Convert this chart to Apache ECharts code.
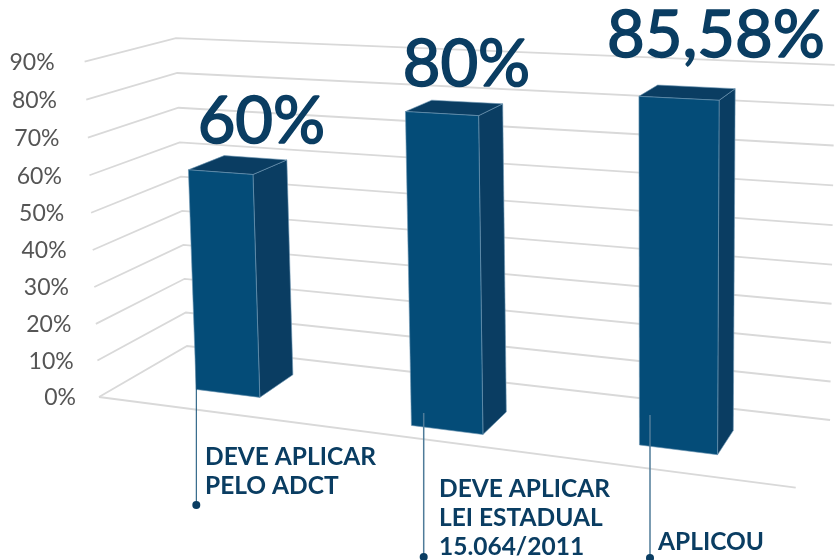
<!DOCTYPE html>
<html lang="pt-br" style="height: 100%">
<head>
  <meta charset="utf-8">
</head>
<body style="height: 100%; margin: 0; background: #fff">
  <div id="container" style="height: 100%"></div>

  <script type="text/javascript" src="https://cdn.jsdelivr.net/npm/echarts@6/dist/echarts.min.js"></script>
  <script type="text/javascript">
    const categories = ['DEVE APLICAR\nPELO ADCT', 'DEVE APLICAR\nLEI ESTADUAL\n15.064/2011', 'APLICOU'];
    const values = [60, 80, 85.58];
    const tickValues = [0, 10, 20, 30, 40, 50, 60, 70, 80, 90];
    const tickLabels = ['0%', '10%', '20%', '30%', '40%', '50%', '60%', '70%', '80%', '90%'];

    const FONT = 'Lato, "Open Sans", sans-serif';
    const NAVY = '#0a3d62';

    // bars were moved by hand in the original slide, so each has its own depth
    const barLayout = [
      { shift: 0.002, front: 0.30, back: 0.72, label: [73, -48], leader: [196.3, 360, 505], text: [205, 443], line: 1, lineColor: '#0a4a72' },
      { shift: 0.022, front: 0.17, back: 0.54, label: [61, -47], leader: [423.7, 413, 557], text: [439, 475], line: 1.5, lineColor: '#4f7b99' },
      { shift: 0.000, front: 0.30, back: 0.67, label: [77, -60], leader: [650, 415, 558], text: [658, 528], line: 1.5, lineColor: '#4f7b99' }
    ];
    const BAR_HALF = 0.052;

    // perspective camera: u along the categories, v up the value axis, d into the wall
    function project(u, v, d) {
      const w = -0.1468 * u - 0.025 * v + 0.0913 * d + 1;
      return [
        (579.9 * u - 16.5 * v + 105.1 * d + 99) / w,
        (19.1 * u - 337 * v - 19.4 * d + 397) / w
      ];
    }

    // the hidden grid fills the page, so axis pixels give unit positions
    const chartDom = document.getElementById('container');
    const myChart = echarts.init(chartDom);
    const unitU = (api, i) => api.coord([i, 0])[0] / myChart.getWidth();
    const unitV = (api, val) => 1 - api.coord([0, val])[1] / myChart.getHeight();

    function face(points, fill) {
      return {
        type: 'polygon',
        shape: { points: points },
        style: { fill: fill, stroke: '#6f97b3', lineWidth: 0.6 }
      };
    }

    function renderGrid(params, api) {
      const val = api.value(0);
      const v = unitV(api, val);
      const gridStyle = { fill: null, stroke: '#d9d9d9', lineWidth: 1.8 };
      const children = [{
        type: 'polyline',
        shape: { points: [project(0, v, 0), project(0, v, 1), project(1, v, 1)] },
        style: gridStyle
      }];
      if (val === 0) {
        children.push({
          type: 'line',
          shape: { x1: project(0, 0, 0)[0], y1: project(0, 0, 0)[1], x2: project(1, 0, 0)[0], y2: project(1, 0, 0)[1] },
          style: gridStyle
        });
      }
      const start = project(0, v, 0);
      children.push({
        type: 'text',
        style: {
          text: tickLabels[params.dataIndex],
          x: start[0] - 23 - 7 * v,
          y: start[1] + 1,
          align: 'right',
          verticalAlign: 'middle',
          fill: '#555555',
          font: '23px ' + FONT
        }
      });
      return { type: 'group', children: children };
    }

    function renderBar(params, api) {
      const i = api.value(0);
      const layout = barLayout[i];
      const u = unitU(api, i) + layout.shift;
      const v = unitV(api, api.value(1));
      const l = u - BAR_HALF;
      const r = u + BAR_HALF;
      const f = layout.front;
      const b = layout.back;
      const topLeft = project(l, v, f);
      return {
        type: 'group',
        children: [
          face([project(r, 0, f), project(r, 0, b), project(r, v, b), project(r, v, f)], '#0a3d62'),
          face([topLeft, project(r, v, f), project(r, v, b), project(l, v, b)], '#0a3d62'),
          face([project(l, 0, f), project(r, 0, f), project(r, v, f), topLeft], '#044c78'),
          {
            type: 'text',
            style: {
              text: String(values[i]).replace('.', ',') + '%',
              x: topLeft[0] + layout.label[0],
              y: topLeft[1] + layout.label[1],
              align: 'center',
              verticalAlign: 'middle',
              fill: NAVY,
              stroke: NAVY,
              lineWidth: 1.6,
              font: '65px ' + FONT
            }
          }
        ]
      };
    }

    function renderCallout(params, api) {
      const i = api.value(0);
      const layout = barLayout[i];
      const leader = layout.leader;
      return {
        type: 'group',
        children: [
          {
            type: 'line',
            shape: { x1: leader[0], y1: leader[1], x2: leader[0], y2: leader[2] },
            style: { stroke: layout.lineColor, lineWidth: layout.line }
          },
          {
            type: 'circle',
            shape: { cx: leader[0], cy: leader[2], r: 4 },
            style: { fill: NAVY }
          },
          {
            type: 'text',
            style: {
              text: categories[i],
              x: layout.text[0],
              y: layout.text[1],
              align: 'left',
              verticalAlign: 'top',
              lineHeight: 29,
              fill: NAVY,
              font: 'bold 24.5px ' + FONT
            }
          }
        ]
      };
    }

    const option = {
      backgroundColor: '#fff',
      animation: false,
      grid: { left: 0, right: 0, top: 0, bottom: 0 },
      xAxis: { type: 'category', data: categories, show: false },
      yAxis: { type: 'value', min: 0, max: 90, interval: 10, show: false },
      series: [
        {
          type: 'custom',
          renderItem: renderGrid,
          data: tickValues.map((t) => [t]),
          encode: { y: 0 },
          silent: true,
          z: 1
        },
        {
          type: 'custom',
          renderItem: renderBar,
          data: values.map((val, i) => [i, val]),
          encode: { x: 0, y: 1 },
          silent: true,
          z: 2
        },
        {
          type: 'custom',
          renderItem: renderCallout,
          data: values.map((val, i) => [i, val]),
          encode: { x: 0, y: 1 },
          silent: true,
          z: 3
        }
      ]
    };

    myChart.setOption(option);
    window.addEventListener('resize', myChart.resize);
  </script>
</body>
</html>
